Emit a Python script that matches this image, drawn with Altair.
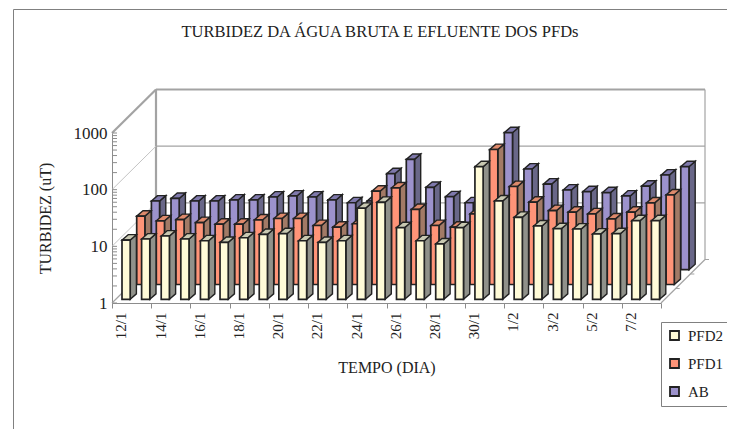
import json
import altair as alt
import pandas as pd

days = ["12/1","13/1","14/1","15/1","16/1","17/1","18/1","19/1","20/1","21/1","22/1","23/1","24/1","25/1",
        "26/1","27/1","28/1","29/1","30/1","31/1","1/2","2/2","3/2","4/2","5/2","6/2","7/2","8/2"]
pfd2 = [11.1,11.6,13.1,11.6,10.8,10.1,12.2,14.0,14.4,10.8,10.1,10.8,40.4,51.5,
        18.4,10.8,9.5,18.4,219,54.4,28,19.7,17.7,17.4,14.2,14.4,24.4,24.4]
pfd1 = [16.1,13.3,14.0,12.4,11.6,11.6,13.8,14.6,14.6,11.0,10.3,11.8,44.4,50.8,
        21.1,11.0,10.3,17.7,241,53.6,28.4,20.2,18.9,17.7,14.4,18.9,27.6,38.2]
ab = [16.3,18.1,16.3,16.3,17.0,17.0,19.2,20.0,19.2,17.0,15.2,16.3,49.4,88.5,
      28.4,19.4,15.2,18,262,59.8,32.5,25.5,23.8,22.9,20.0,29.9,46.9,65.8]
series_names = ["PFD2", "PFD1", "AB"]
front_colors = ["#FFFBD8", "#FF9478", "#9C92CC"]
side_colors = ["#90918A", "#A27A66", "#696788"]
top_colors = ["#C9C9B2", "#DE8A6C", "#7F79AC"]
tick_labels = days[::2]
y_major = [1, 10, 100, 1000]
y_minor = [1,2,3,4,5,6,7,8,9,10,20,30,40,50,60,70,80,90,100,200,300,400,500,600,700,800,900,1000]
title_text = "TURBIDEZ DA ÁGUA BRUTA E  EFLUENTE DOS PFDs"

WIDTH, HEIGHT = 549, 170
SLOT = WIDTH / 28
DECADE = HEIGHT / 3
WALL_DX, WALL_DY = 44, 43.5
GAP, BAR_W, BAR_DEPTH_X, BAR_DEPTH_Y = 5.7, 8.2, 6.2, 5.4

def ux(px):
    return px / SLOT

def up(v, px):
    return v * 10 ** (px / DECADE)

def bar_tables(values, row):
    dx = 4.3 + 14.7 * row
    dy = 3.7 + 14.8 * row
    front, side, top = [], [], []
    for i, v in enumerate(values):
        x0 = i + ux(GAP + dx)
        x1 = x0 + ux(BAR_W)
        y0, y1 = up(1, dy), up(v, dy)
        front.append(dict(day=days[i], series=series_names[row], x=x0, x2=x1, y=y0, y2=y1))
        for k in (0, 1):
            side.append(dict(bar=i, x=x1 + k * ux(BAR_DEPTH_X),
                             y=up(y0, k * BAR_DEPTH_Y), y2=up(y1, k * BAR_DEPTH_Y)))
            top.append(dict(bar=i, y=up(y1, k * BAR_DEPTH_Y),
                            x=x0 + k * ux(BAR_DEPTH_X), x2=x1 + k * ux(BAR_DEPTH_X)))
    return pd.DataFrame(front), pd.DataFrame(side), pd.DataFrame(top)

xs = alt.Scale(domain=[0, 28], nice=False, zero=False)
ys = alt.Scale(type="log", domain=[1, 1000], nice=False)
INK = "#222222"

def seg(rows):
    out = []
    for j, (a, b, c, d) in enumerate(rows):
        out += [dict(id=j, x=a, y=b), dict(id=j, x=c, y=d)]
    return pd.DataFrame(out)

wdx, wdy = ux(WALL_DX), WALL_DY

def line_layer(rows, color, w):
    return alt.Chart(seg(rows)).mark_line(color=color, strokeWidth=w).encode(
        x=alt.X("x:Q", scale=xs, axis=None), y=alt.Y("y:Q", scale=ys, axis=None), detail="id:N")

thick = [(wdx, up(1, wdy), wdx, up(1000, wdy)),
         (wdx, up(1000, wdy), 28 + wdx, up(1000, wdy)),
         (0, 1000, wdx, up(1000, wdy))]
grid = [(wdx, up(100, wdy), 28 + wdx, up(100, wdy)),
        (wdx, up(10, wdy), 28 + wdx, up(10, wdy)),
        (28 + wdx, up(1, wdy), 28 + wdx, up(1000, wdy)),
        (0, 1, wdx, up(1, wdy)),
        (28, 1, 28 + wdx, up(1, wdy))]
light = [(0, 100, wdx, up(100, wdy)), (0, 10, wdx, up(10, wdy))]
floor_ticks = [(28 + wdx * f, up(1, wdy * f), 28 + wdx * f + ux(4), up(1, wdy * f)) for f in (1/3, 2/3, 1)]

axis_layer = alt.Chart(pd.DataFrame({"x": [0.0], "y": [1.0]})).mark_point(opacity=0).encode(
    x=alt.X("x:Q", scale=xs, title="TEMPO (DIA)", axis=alt.Axis(
        values=list(range(0, 29, 2)), grid=False, tickColor="#8c8c8c", domainColor="#8c8c8c",
        tickSize=5, labelAngle=-90, labelAlign="right", labelBaseline="middle",
        labelOffset=SLOT / 2 - 1, labelPadding=4, labelFlush=False, labelOverlap=False,
        labelExpr=json.dumps(tick_labels) + "[datum.value/2] || ''",
        labelFont="Liberation Serif", labelFontSize=15, labelColor=INK,
        titleFont="Liberation Serif", titleFontSize=16, titleFontWeight="normal", titleColor=INK, titlePadding=21)),
    y=alt.Y("y:Q", scale=ys, title="TURBIDEZ (uT)", axis=alt.Axis(
        values=y_major, grid=False, ticks=False, domainColor="#8c8c8c", format="d", labelPadding=5,
        labelFont="Liberation Serif", labelFontSize=17, labelColor=INK,
        titleFont="Liberation Serif", titleFontSize=16, titleFontWeight="normal", titleColor=INK, titlePadding=20)),
)

minor = alt.Chart(pd.DataFrame({"y": y_minor, "x": [0.0] * len(y_minor), "x2": [ux(5)] * len(y_minor)})).mark_rule(
    color="#8c8c8c", strokeWidth=1).encode(x=alt.X("x:Q", scale=xs, axis=None), x2="x2:Q", y=alt.Y("y:Q", scale=ys, axis=None))

frame_left = alt.Chart(pd.DataFrame({"a": [0]})).mark_rule(color="#808080", strokeWidth=1).encode(
    x=alt.value(13.5 - 112), y=alt.value(9.5 - 133), y2=alt.value(429 - 133))
frame_top = alt.Chart(pd.DataFrame({"a": [0]})).mark_rule(color="#808080", strokeWidth=1).encode(
    y=alt.value(9.5 - 133), x=alt.value(13.5 - 112), x2=alt.value(735 - 112))
title_mark = alt.Chart(pd.DataFrame({"t": [title_text]})).mark_text(
    font="Liberation Serif", fontSize=16.5, color=INK, align="center", baseline="middle").encode(
    text="t:N", x=alt.value(380 - 112), y=alt.value(32 - 133))

layers = [frame_left, frame_top, title_mark, line_layer(thick, "#a3a3a3", 2.2), line_layer(grid, "#a3a3a3", 1.2),
          line_layer(light, "#c4c4c4", 1), line_layer(floor_ticks, "#a3a3a3", 1), minor, axis_layer]

color = alt.Color("series:N", scale=alt.Scale(domain=series_names, range=front_colors), legend=alt.Legend(
    title=None, orient="none", legendX=549, legendY=189, fillColor="white", strokeColor="#808080",
    padding=6, rowPadding=11, symbolType="square", symbolSize=81, symbolStrokeColor=INK, symbolStrokeWidth=1.8,
    labelFont="Liberation Serif", labelFontSize=15, labelColor=INK, labelOffset=6))

for row, vals in sorted(enumerate([pfd2, pfd1, ab]), key=lambda t: -t[0]):
    f, s, t = bar_tables(vals, row)
    layers.append(alt.Chart(s).mark_area(color=side_colors[row], stroke=INK, strokeWidth=1.4).encode(
        x=alt.X("x:Q", scale=xs, axis=None), y=alt.Y("y:Q", scale=ys, axis=None), y2="y2:Q", detail="bar:N"))
    layers.append(alt.Chart(t).mark_area(orient="horizontal", color=top_colors[row], stroke=INK, strokeWidth=1.4).encode(
        y=alt.Y("y:Q", scale=ys, axis=None), x=alt.X("x:Q", scale=xs, axis=None), x2="x2:Q", detail="bar:N"))
    layers.append(alt.Chart(f).mark_rect(stroke=INK, strokeWidth=1.7).encode(
        x=alt.X("x:Q", scale=xs, axis=None), x2="x2:Q", y=alt.Y("y:Q", scale=ys, axis=None), y2="y2:Q", color=color))

chart = alt.layer(*layers).resolve_axis(x="independent", y="independent").properties(
    width=WIDTH, height=HEIGHT,
    padding={"left": 104, "top": 125, "right": 66, "bottom": 126},
    autosize=alt.AutoSizeParams(type="none"),
    background="white",
).configure_view(strokeWidth=0, stroke="transparent")

chart.save("out.html", embed_options={"renderer": "svg", "actions": False})
